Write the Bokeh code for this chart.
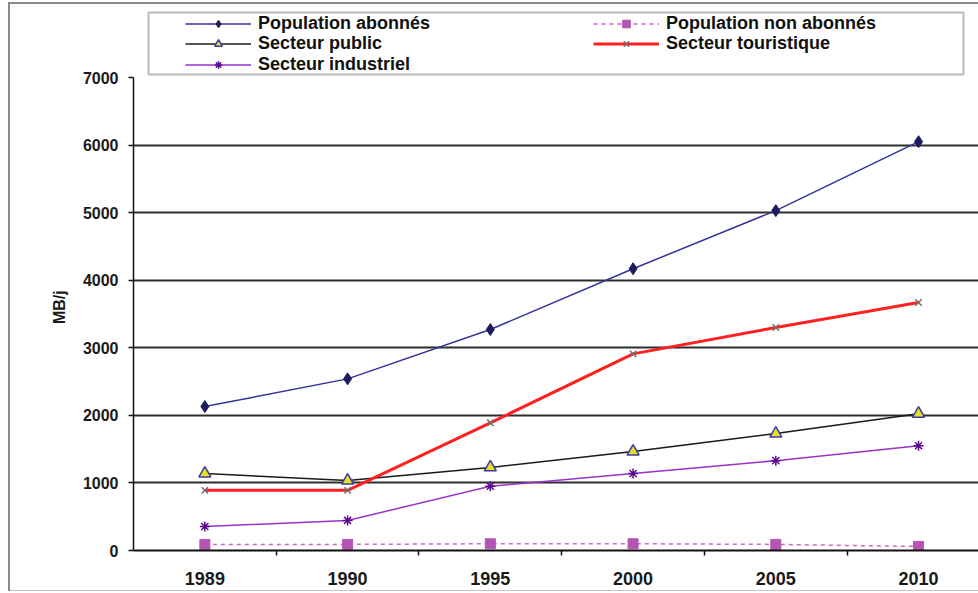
from bokeh.plotting import figure
from bokeh.models import Range1d, FixedTicker, Legend, LegendItem, BoxAnnotation
from bokeh.embed import file_html
from bokeh.resources import INLINE

# ---- data ----
years = ["1989", "1990", "1995", "2000", "2005", "2010"]
pop_abonnes = [2130, 2540, 3270, 4170, 5030, 6050]
pop_non_abonnes = [90, 90, 100, 100, 90, 60]
secteur_public = [1140, 1035, 1230, 1465, 1730, 2025]
secteur_touristique = [890, 890, 1890, 2910, 3300, 3670]
secteur_industriel = [355, 445, 950, 1140, 1330, 1550]
y_ticks = [0, 1000, 2000, 3000, 4000, 5000, 6000, 7000]
y_label = "MB/j"

xs = list(range(len(years)))
FONT = "Liberation Sans"

# frame spans y 10..550 px; the value axis itself stops at 7000 (y=77 px)
Y_MAX = 7000
Y_TOP = Y_MAX * 540 / 473

p = figure(width=978, height=593, output_backend="svg", toolbar_location=None,
           x_range=Range1d(-0.5, 5.42), y_range=Range1d(0, Y_TOP),
           min_border_left=133, min_border_right=0, min_border_top=10, min_border_bottom=43)
p.outline_line_color = None
p.background_fill_color = "white"
p.border_fill_color = None
p.styles = {
    "background": (
        "linear-gradient(#8a8a8a,#8a8a8a) 8px 2px / 2px 589px no-repeat,"
        "linear-gradient(#8a8a8a,#8a8a8a) 8px 2px / 970px 2px no-repeat,"
        "linear-gradient(#c4c4c4,#c4c4c4) 8px 590px / 970px 1px no-repeat,"
        "white"
    )
}

# x axis: labels at category centres, small ticks between categories
xax = p.xaxis[0]
xax.ticker = FixedTicker(ticks=xs, minor_ticks=[i + 0.5 for i in xs[:-1]])
xax.major_label_overrides = {i: y for i, y in zip(xs, years)}
xax.major_tick_out = 0
xax.major_tick_in = 0
xax.minor_tick_out = 5
xax.minor_tick_in = 0
xax.minor_tick_line_color = "#111111"
xax.minor_tick_line_width = 1.5
xax.axis_line_color = "#111111"
xax.axis_line_width = 2
xax.major_label_text_font = FONT
xax.major_label_text_font_style = "bold"
xax.major_label_text_font_size = "18px"
xax.major_label_text_color = "#1a1a1a"
xax.major_label_standoff = 16

yax = p.yaxis[0]
yax.ticker = FixedTicker(ticks=y_ticks)
yax.bounds = (0, Y_MAX)
yax.major_tick_out = 5
yax.major_tick_in = 0
yax.minor_tick_out = 0
yax.minor_tick_in = 0
yax.major_tick_line_color = "#111111"
yax.major_tick_line_width = 1.5
yax.axis_line_color = "#111111"
yax.axis_line_width = 1.5
yax.major_label_text_font = FONT
yax.major_label_text_font_style = "bold"
yax.major_label_text_font_size = "16px"
yax.major_label_text_color = "#1a1a1a"
yax.major_label_standoff = 10
# trailing no-break spaces shift the rotated title down to the 0-7000 axis centre
yax.axis_label = y_label + "\u00a0" * 12
yax.axis_label_text_font = FONT
yax.axis_label_text_font_style = "bold"
yax.axis_label_text_font_size = "16px"
yax.axis_label_text_color = "#1a1a1a"
yax.axis_label_standoff = 12

p.xgrid.visible = False
p.ygrid.ticker = FixedTicker(ticks=y_ticks[1:-1])
p.ygrid.grid_line_color = "#2e2e2e"
p.ygrid.grid_line_width = 2

# ---- series ----
l1 = p.line(xs, pop_abonnes, line_color="#333399", line_width=1.5)
m1 = p.scatter(xs, pop_abonnes, marker="diamond", size=12, fill_color="#1c1c5c", line_color="#1c1c5c")

l2 = p.line(xs, pop_non_abonnes, line_color="#cc66cc", line_width=1.5, line_dash="4 4")
m2 = p.scatter(xs, pop_non_abonnes, marker="square", size=10, fill_color="#b455b4", line_color="#b455b4")

l3 = p.line(xs, secteur_public, line_color="#1a1a1a", line_width=1.5)
m3 = p.scatter(xs, secteur_public, marker="triangle", size=12, fill_color="#e8e020",
               line_color="#3a3aa8", line_width=1.5)

l4 = p.line(xs, secteur_touristique, line_color="#ff2020", line_width=3)
m4 = p.scatter(xs, secteur_touristique, marker="x", size=9, line_color="#707070", line_width=1.5)

l5 = p.line(xs, secteur_industriel, line_color="#9933cc", line_width=1.5)
m5 = p.scatter(xs, secteur_industriel, marker="asterisk", size=10, line_color="#5c0a8c", line_width=1.5)

# ---- legend: one Legend per row so rows can sit close together ----
rows = [
    [("Population abonnés", [l1, m1]), ("Population non abonnés", [l2, m2])],
    [("Secteur public", [l3, m3]), ("Secteur touristique", [l4, m4])],
    [("Secteur industriel", [l5, m5])],
]
row_bottoms = [516.5, 496.0, 475.5]
for row, vy in zip(rows, row_bottoms):
    lg = Legend(items=[LegendItem(label=t, renderers=r) for t, r in row],
                location=(52, vy), orientation="horizontal")
    lg.border_line_alpha = 0
    lg.background_fill_alpha = 0
    lg.padding = 0
    lg.margin = 0
    lg.spacing = 0
    lg.glyph_width = 66
    lg.glyph_height = 19
    lg.label_height = 19
    lg.label_width = 335
    lg.label_standoff = 7
    lg.label_text_font = FONT
    lg.label_text_font_style = "bold"
    lg.label_text_font_size = "18px"
    lg.label_text_color = "#111111"
    lg.label_text_baseline = "middle"
    p.add_layout(lg, "center")

legend_box = BoxAnnotation(left=15, right=830, top=538, bottom=476,
                           left_units="screen", right_units="screen",
                           top_units="screen", bottom_units="screen",
                           fill_alpha=0, line_color="#1a1a1a", line_width=2)
p.add_layout(legend_box)

open("out.html", "w").write(file_html(p, INLINE))
